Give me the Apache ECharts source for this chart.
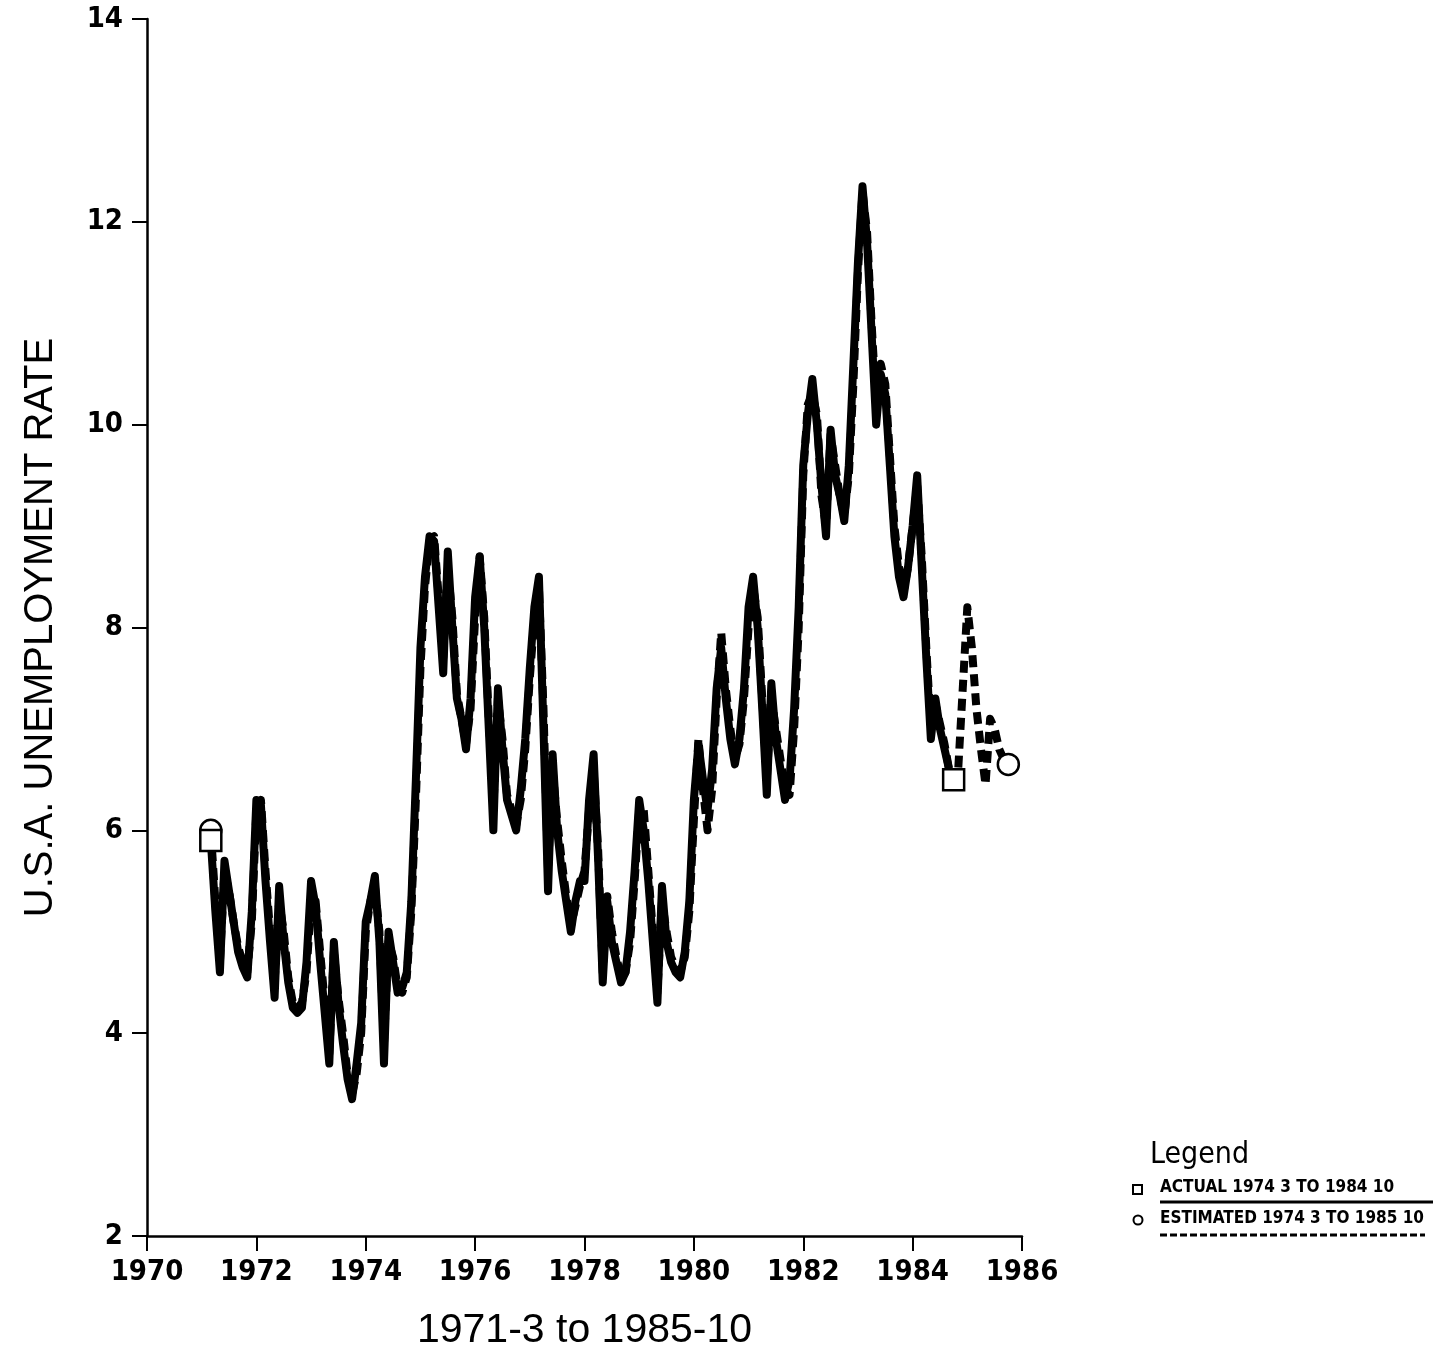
<!DOCTYPE html>
<html>
<head>
<meta charset="utf-8">
<script src="https://cdn.jsdelivr.net/npm/echarts@6/dist/echarts.min.js"></script>
<style>
html,body{margin:0;padding:0;background:#fff;}
#chart{width:1442px;height:1356px;}
</style>
</head>
<body>
<div id="chart"></div>
<script>
// ---- Data (monthly) ----
const actualStart = [1971, 3];     // year, month
const estimatedStart = [1971, 3];

const actualValues = [
  // 1971 (Mar-Dec)
  5.9, 5.2, 4.6, 5.7, 5.4, 5.1, 4.8, 4.65, 4.55, 5.2,
  // 1972
  6.3, 6.25, 5.5, 4.9, 4.35, 5.45, 4.9, 4.5, 4.25, 4.2, 4.25, 4.7,
  // 1973
  5.5, 5.25, 4.7, 4.2, 3.7, 4.9, 4.3, 3.9, 3.55, 3.35, 3.7, 4.1,
  // 1974
  5.1, 5.3, 5.55, 4.9, 3.7, 5.0, 4.7, 4.4, 4.45, 4.6, 5.3, 6.5,
  // 1975
  7.8, 8.5, 8.9, 8.85, 8.2, 7.55, 8.75, 8.0, 7.3, 7.1, 6.8, 7.3,
  // 1976
  8.3, 8.7, 8.0, 7.0, 6.0, 7.4, 6.8, 6.3, 6.15, 6.0, 6.4, 6.9,
  // 1977
  7.6, 8.2, 8.5, 7.0, 5.4, 6.75, 6.0, 5.6, 5.3, 5.0, 5.3, 5.5,
  // 1978
  5.5, 6.3, 6.75, 5.7, 4.5, 5.3, 4.9, 4.7, 4.5, 4.6, 5.0, 5.6,
  // 1979
  6.3, 6.0, 5.5, 4.9, 4.3, 5.45, 4.9, 4.7, 4.6, 4.55, 4.8, 5.3,
  // 1980
  6.3, 6.85, 6.5, 6.2, 6.6, 7.4, 7.8, 7.3, 6.9, 6.65, 6.9, 7.4,
  // 1981
  8.2, 8.5, 8.0, 7.2, 6.35, 7.45, 6.9, 6.6, 6.3, 6.5, 7.2, 8.2,
  // 1982
  9.6, 10.1, 10.45, 10.0, 9.4, 8.9, 9.95, 9.5, 9.3, 9.05, 9.6, 10.6,
  // 1983
  11.6, 12.35, 11.8, 10.9, 10.0, 10.5, 10.3, 9.6, 8.9, 8.5, 8.3, 8.6,
  // 1984 (Jan-Oct)
  9.0, 9.5, 8.6, 7.7, 6.9, 7.3, 7.0, 6.8, 6.6, 6.5
];

const estimatedValues = [
  // 1971 (Mar-Dec)
  6.0, 5.3, 4.7, 5.6, 5.4, 5.1, 4.85, 4.7, 4.6, 5.1,
  // 1972
  6.2, 6.3, 5.6, 5.0, 4.5, 5.3, 5.0, 4.55, 4.3, 4.25, 4.3, 4.6,
  // 1973
  5.3, 5.3, 4.8, 4.3, 3.8, 4.8, 4.35, 4.0, 3.6, 3.4, 3.6, 4.0,
  // 1974
  5.0, 5.3, 5.45, 5.0, 3.9, 4.9, 4.75, 4.45, 4.4, 4.55, 5.2, 6.3,
  // 1975
  7.6, 8.4, 8.85, 8.9, 8.3, 7.7, 8.6, 8.1, 7.35, 7.1, 6.85, 7.2,
  // 1976
  8.1, 8.7, 8.1, 7.1, 6.2, 7.3, 6.9, 6.35, 6.2, 6.05, 6.3, 6.8,
  // 1977
  7.5, 8.1, 8.4, 7.2, 5.6, 6.6, 6.1, 5.7, 5.35, 5.05, 5.25, 5.45,
  // 1978
  5.6, 6.2, 6.6, 5.8, 4.6, 5.35, 5.0, 4.75, 4.55, 4.6, 4.9, 5.5,
  // 1979
  6.2, 6.2, 5.6, 5.0, 4.4, 5.3, 5.0, 4.75, 4.65, 4.6, 4.75, 5.2,
  // 1980
  6.1, 6.9, 6.4, 6.0, 6.4, 7.3, 7.95, 7.4, 7.0, 6.7, 6.85, 7.3,
  // 1981
  8.0, 8.4, 8.1, 7.3, 6.5, 7.3, 7.0, 6.7, 6.4, 6.35, 7.0, 8.0,
  // 1982
  9.5, 10.2, 10.3, 10.1, 9.3, 9.0, 9.9, 9.6, 9.3, 9.1, 9.5, 10.4,
  // 1983
  11.5, 12.3, 11.9, 11.0, 10.2, 10.6, 10.4, 9.7, 9.0, 8.6, 8.35, 8.6,
  // 1984
  9.0, 9.4, 8.7, 7.8, 7.0, 7.25, 7.05, 6.85, 6.6, 6.5, 6.6, 7.4,
  // 1985 (Jan-Oct)
  8.2, 7.8, 7.2, 6.8, 6.45, 7.1, 7.0, 6.8, 6.7, 6.65
];

const yTicks = [2, 4, 6, 8, 10, 12, 14];
const xTicks = [1970, 1972, 1974, 1976, 1978, 1980, 1982, 1984, 1986];

const xAxisTitle = '1971-3 to 1985-10';
const yAxisTitle = 'U.S.A. UNEMPLOYMENT RATE';
const legendTitle = 'Legend';
const actualLabel = 'ACTUAL 1974 3 TO 1984 10';
const estimatedLabel = 'ESTIMATED 1974 3 TO 1985 10';

// ---- Build series data: x = decimal year of each month ----
function toPairs(start, values) {
  return values.map((v, i) => [start[0] + (start[1] - 1 + i) / 12, v]);
}
const actualData = toPairs(actualStart, actualValues);
const estimatedData = toPairs(estimatedStart, estimatedValues);

const NARROW = "'Liberation Sans Narrow', 'DejaVu Sans Condensed', 'Liberation Sans', sans-serif";
const SANS = "'Liberation Sans', 'DejaVu Sans', sans-serif";

const chart = echarts.init(document.getElementById('chart'), null, {renderer: 'canvas'});

function endSymbol(shape, n) {
  return function (val, params) {
    return (params.dataIndex === 0 || params.dataIndex === n - 1) ? shape : 'none';
  };
}

const option = {
  backgroundColor: '#fff',
  animation: false,
  grid: {left: 147, right: 420, top: 19, bottom: 109, containLabel: false},
  xAxis: {
    type: 'value',
    min: xTicks[0],
    max: xTicks[xTicks.length - 1],
    interval: 2,
    name: xAxisTitle,
    nameLocation: 'middle',
    nameGap: 74,
    nameTextStyle: {fontFamily: SANS, fontSize: 41, color: '#000'},
    axisLine: {show: true, onZero: false, lineStyle: {color: '#000', width: 2.5}},
    axisTick: {show: true, length: 15, lineStyle: {color: '#000', width: 2}},
    axisLabel: {fontFamily: NARROW, fontWeight: 'bold', fontSize: 29, color: '#000', margin: 22,
                formatter: function (v) { return String(v); }},
    splitLine: {show: false}
  },
  yAxis: {
    type: 'value',
    min: yTicks[0],
    max: yTicks[yTicks.length - 1],
    interval: 2,
    name: yAxisTitle,
    nameLocation: 'middle',
    nameRotate: 90,
    nameGap: 86,
    nameTextStyle: {fontFamily: SANS, fontSize: 40, color: '#000'},
    axisLine: {show: true, onZero: false, lineStyle: {color: '#000', width: 2.5}},
    axisTick: {show: true, length: 15, lineStyle: {color: '#000', width: 2}},
    axisLabel: {fontFamily: NARROW, fontWeight: 'bold', fontSize: 29, color: '#000', margin: 24,
                formatter: function (v) { return String(v); }},
    splitLine: {show: false}
  },
  series: [
    {
      name: estimatedLabel,
      type: 'line',
      data: estimatedData,
      z: 2,
      smooth: false,
      showSymbol: true,
      showAllSymbol: true,
      symbol: endSymbol('circle', estimatedData.length),
      symbolSize: 21,
      itemStyle: {color: '#fff', borderColor: '#000', borderWidth: 2.5},
      lineStyle: {color: '#000', width: 8, type: [12, 7], join: 'round'}
    },
    {
      name: actualLabel,
      type: 'line',
      data: actualData,
      z: 3,
      smooth: false,
      showSymbol: true,
      showAllSymbol: true,
      symbol: endSymbol('rect', actualData.length),
      symbolSize: 21,
      itemStyle: {color: '#fff', borderColor: '#000', borderWidth: 2.5},
      lineStyle: {color: '#000', width: 8, join: 'round'}
    }
  ],
  graphic: [
    {type: 'text', left: 1150, top: 1140,
     style: {text: legendTitle, font: "30px " + NARROW, fill: '#000'}},
    {type: 'rect', shape: {x: 1133, y: 1185, width: 9, height: 9},
     style: {fill: '#fff', stroke: '#000', lineWidth: 2}},
    {type: 'text', left: 1160, top: 1179,
     style: {text: actualLabel, font: "bold 17px " + NARROW, fill: '#000'}},
    {type: 'line', shape: {x1: 1160, y1: 1202, x2: 1433, y2: 1202},
     style: {stroke: '#000', lineWidth: 3}},
    {type: 'circle', shape: {cx: 1138, cy: 1220, r: 4.5},
     style: {fill: '#fff', stroke: '#000', lineWidth: 2}},
    {type: 'text', left: 1160, top: 1210,
     style: {text: estimatedLabel, font: "bold 17px " + NARROW, fill: '#000'}},
    {type: 'line', shape: {x1: 1160, y1: 1235, x2: 1425, y2: 1235},
     style: {stroke: '#000', lineWidth: 3, lineDash: [7, 3]}}
  ]
};

chart.setOption(option);
</script>
</body>
</html>
